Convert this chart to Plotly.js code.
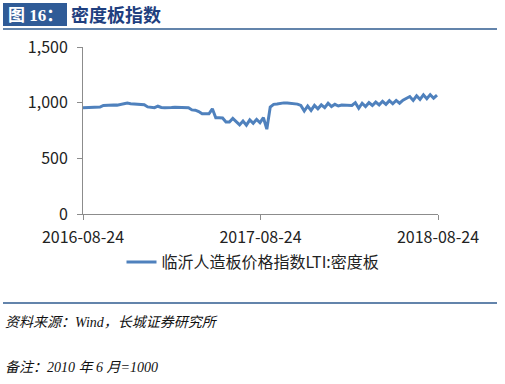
<!DOCTYPE html>
<html>
<head>
<meta charset="utf-8">
<script src="https://cdn.plot.ly/plotly-3.0.1.min.js"></script>
<style>
html,body{margin:0;padding:0;background:#fff;}
#chart{width:505px;height:384px;}
</style>
</head>
<body>
<div id="chart"></div>
<script>
// Weekly series starting 2016-08-24
const startDate = '2016-08-24';
const seriesName = '临沂人造板价格指数LTI:密度板';
const values = [
  955, 957, 954, 956, 958, 960, 975, 978, 976, 980,
  978, 984, 988, 996, 990, 987, 985, 983, 982, 962,
  956, 955, 968, 957, 955, 953, 956, 958, 957, 956,
  958, 955, 935, 933, 920, 900, 900, 900, 945, 865,
  865, 862, 826, 826, 858, 826, 800, 835, 798, 845,
  815, 850, 820, 865, 762, 960, 985, 988, 995, 998,
  997, 993, 990, 987, 975, 925, 970, 930, 975, 945,
  980, 955, 995, 965, 985, 970, 978, 975, 975, 975,
  1000, 950, 995, 965, 1000, 975, 1005, 980, 1012, 985,
  1018, 990, 1020, 995, 1022, 1035, 1055, 1020, 1062, 1030,
  1070, 1035, 1072, 1040, 1068
];
const xTickVals = ['2016-08-24', '2017-08-24', '2018-08-24'];
const xTickText = ['2016-08-24', '2017-08-24', '2018-08-24'];
const yTickVals = [0, 500, 1000, 1500];
const yTickText = ['0', '500', '1,000', '1,500'];
const figTitleTag = '图 16：';
const figTitle = '密度板指数';
const note1 = '资料来源：Wind，长城证券研究所';
const note2 = '备注：2010 年 6 月=1000';

// plot area in pixels
const L = 83, R = 438, T = 47, B = 214;
const px = x => (x - L) / (R - L);
const py = y => (B - y) / (B - T);

const sans = 'Noto Sans CJK SC, Noto Sans, sans-serif';
const serif = 'Liberation Serif, Noto Sans CJK SC, serif';

const trace = {
  type: 'scatter', mode: 'lines', name: seriesName,
  x0: startDate, dx: 7 * 86400000, y: values,
  line: {color: '#4f81bd', width: 3}
};

const layout = {
  width: 505, height: 384,
  margin: {l: L, r: 505 - R, t: T, b: 384 - B},
  paper_bgcolor: '#fff', plot_bgcolor: '#fff',
  font: {family: sans, size: 16, color: '#222'},
  showlegend: true,
  legend: {orientation: 'h', x: px(253), xanchor: 'center', y: py(262), yanchor: 'middle',
           font: {family: sans, size: 16, color: '#222'}, bgcolor: 'rgba(0,0,0,0)'},
  xaxis: {type: 'date', range: ['2016-08-24', '2018-08-24'],
          tickvals: xTickVals, ticktext: xTickText,
          showgrid: false, zeroline: false, showline: true, linecolor: '#8c8c8c', linewidth: 1,
          ticks: 'outside', ticklen: 5, tickcolor: '#8c8c8c', ticklabelstandoff: 4,
          tickfont: {family: sans, size: 16, color: '#222'}},
  yaxis: {range: [0, 1500], tickvals: yTickVals, ticktext: yTickText,
          showgrid: false, zeroline: false, showline: true, linecolor: '#8c8c8c', linewidth: 1,
          ticks: 'outside', ticklen: 5, tickcolor: '#8c8c8c', ticklabelstandoff: 6,
          tickfont: {family: sans, size: 16, color: '#222'}},
  shapes: [
    {type: 'rect', xref: 'paper', yref: 'paper', x0: px(3), x1: px(67), y0: py(26), y1: py(3),
     fillcolor: '#2f5b97', line: {width: 0}},
    {type: 'line', xref: 'paper', yref: 'paper', x0: px(3), x1: px(497), y0: py(29), y1: py(29),
     line: {color: '#2f5b8f', width: 1.5}},
    {type: 'line', xref: 'paper', yref: 'paper', x0: px(3), x1: px(497), y0: py(303), y1: py(303),
     line: {color: '#2f5b8f', width: 1.5}}
  ],
  annotations: [
    {xref: 'paper', yref: 'paper', x: px(35), y: py(15), xanchor: 'center', yanchor: 'middle',
     text: '<b>' + figTitleTag + '</b>', showarrow: false,
     font: {family: serif, size: 17, color: '#ffffff'}},
    {xref: 'paper', yref: 'paper', x: px(69), y: py(15), xanchor: 'left', yanchor: 'middle',
     text: '<b>' + figTitle + '</b>', showarrow: false,
     font: {family: serif, size: 18, color: '#1f3f7f'}},
    {xref: 'paper', yref: 'paper', x: px(3), y: py(322), xanchor: 'left', yanchor: 'middle',
     text: '<i>' + note1 + '</i>', showarrow: false,
     font: {family: serif, size: 14, color: '#111'}},
    {xref: 'paper', yref: 'paper', x: px(3), y: py(367), xanchor: 'left', yanchor: 'middle',
     text: '<i>' + note2 + '</i>', showarrow: false,
     font: {family: serif, size: 14, color: '#111'}}
  ]
};

Plotly.newPlot('chart', [trace], layout, {staticPlot: true, displayModeBar: false});
</script>
</body>
</html>
